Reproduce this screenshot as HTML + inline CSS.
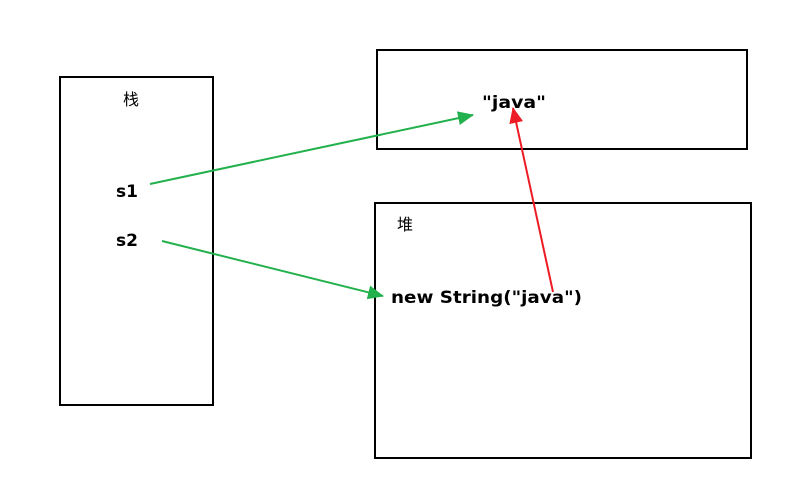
<!DOCTYPE html>
<html><head><meta charset="utf-8"><style>
body{margin:0;background:#fff;width:802px;height:490px;overflow:hidden}
svg text{font-family:"DejaVu Sans","Noto Sans CJK SC",sans-serif}
</style></head><body>
<svg width="802" height="490" xmlns="http://www.w3.org/2000/svg">
<defs>
<marker id="g" markerWidth="16" markerHeight="14" refX="15" refY="7" orient="auto" markerUnits="userSpaceOnUse" viewBox="0 0 16 14"><path d="M0,0 L16,7 L0,14z" fill="#22b14c"/></marker>
<marker id="r" markerWidth="16" markerHeight="14" refX="15" refY="7" orient="auto" markerUnits="userSpaceOnUse" viewBox="0 0 16 14"><path d="M0,0 L16,7 L0,14z" fill="#ed1c24"/></marker>
</defs>
<g fill="none" stroke="#000" stroke-width="2">
<rect x="60" y="77" width="153" height="328"/>
<rect x="377" y="50" width="370" height="99"/>
<rect x="375" y="203" width="376" height="255"/>
</g>
<g stroke-width="2">
<line x1="150" y1="184" x2="473" y2="115" stroke="#22b14c" marker-end="url(#g)"/>
<line x1="162" y1="241" x2="383" y2="296" stroke="#22b14c" marker-end="url(#g)"/>
<line x1="553" y1="292" x2="513" y2="108" stroke="#ed1c24" marker-end="url(#r)"/>
</g>
<g font-weight="bold" font-size="17" fill="#000">
<text x="482" y="108" textLength="64" lengthAdjust="spacingAndGlyphs">"java"</text>
<text x="116" y="197">s1</text>
<text x="116" y="246">s2</text>
<text x="391" y="303" textLength="191" lengthAdjust="spacingAndGlyphs">new String("java")</text>
</g>
<text x="123" y="105" font-size="16">栈</text>
<text x="397" y="230" font-size="16">堆</text>
</svg>
</body></html>
